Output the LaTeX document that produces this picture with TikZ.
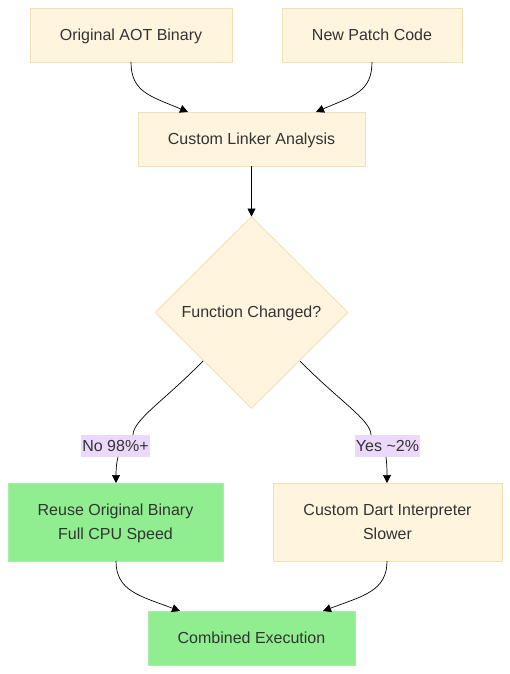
\documentclass[tikz,border=0pt]{standalone}
\usepackage{fontspec}
\setmainfont{Liberation Sans}
\usetikzlibrary{arrows.meta,shapes.geometric}
\definecolor{cream}{RGB}{255,244,221}
\definecolor{creamline}{RGB}{240,224,178}
\definecolor{lgreen}{RGB}{144,238,144}
\definecolor{lgreenline}{RGB}{170,236,170}
\definecolor{lblbg}{RGB}{236,216,250}
\definecolor{txt}{RGB}{51,51,51}
\begin{document}
\begin{tikzpicture}[x=1pt,y=-1pt,
  every node/.style={font=\fontsize{16}{24}\selectfont, text=txt},
  box/.style={draw=creamline, fill=cream, line width=0.8pt, inner sep=0pt, align=center, text depth=1pt},
  gbox/.style={draw=lgreenline, fill=lgreen, line width=0.8pt, inner sep=0pt, align=center, text depth=1pt},
  dia/.style={diamond, draw=creamline, fill=cream, line width=0.8pt, inner sep=0pt, minimum width=193pt, minimum height=192pt, aspect=1},
  elbl/.style={fill=lblbg, inner sep=1pt, minimum height=22pt, minimum width=65pt, text depth=1pt},
  conn/.style={draw=black, line width=0.7pt},
  arr/.style={conn, -{Triangle[length=8pt,width=8pt]}}
]
\useasboundingbox (0,0) rectangle (510,674);

\node[box, minimum width=202pt, minimum height=54pt] (aot) at (131,35) {Original AOT Binary};
\node[box, minimum width=180pt, minimum height=54pt] (patch) at (372,35) {New Patch Code};
\node[box, minimum width=227pt, minimum height=54pt] (link) at (251.5,139) {Custom Linker Analysis};
\node[dia] (dec) at (251.5,312.5) {};
\node (dectxt) at (251.5,313.5) {Function Changed?};
\node[gbox, minimum width=215pt, minimum height=78pt] (reuse) at (115.5,522) {Reuse Original Binary\\Full CPU Speed};
\node[box, minimum width=229pt, minimum height=78pt] (interp) at (387.5,522) {Custom Dart Interpreter\\Slower};
\node[gbox, minimum width=207pt, minimum height=54pt] (comb) at (251.5,638) {Combined Execution};

\node[elbl, minimum width=65pt] (lno) at (115.5,446) {No 98\%+};
\node[elbl, minimum width=63pt] (lyes) at (387.5,446) {Yes \textasciitilde2\%};

\coordinate (aotS) at (131,62);
\coordinate (patchS) at (372,62);
\coordinate (linkA) at (188,112);
\coordinate (linkB) at (316,112);
\coordinate (decL) at (203,361);
\coordinate (decR) at (300,361);
\coordinate (lnoT) at (133,435);
\coordinate (lyesT) at (371,435);
\coordinate (lnoB) at (118,457);
\coordinate (lyesB) at (386,457);
\coordinate (reuseT) at (116,483);
\coordinate (interpT) at (387,483);
\coordinate (reuseB) at (116,561);
\coordinate (interpB) at (387,561);
\coordinate (combA) at (180,611);
\coordinate (combB) at (323,611);
\coordinate (linkS) at (251.5,166);
\coordinate (decT) at (251.5,216.5);

\draw[arr] (aotS) .. controls (131,92) and (150,96) .. (linkA);
\draw[arr] (patchS) .. controls (372,92) and (353,96) .. (linkB);
\draw[arr] (linkS) -- (decT);
\draw[conn] (decL) .. controls (165,400) and (133,420) .. (lnoT);
\draw[conn] (decR) .. controls (338,400) and (371,420) .. (lyesT);
\draw[arr] (lnoB) .. controls (116,465) and (116,472) .. (reuseT);
\draw[arr] (lyesB) .. controls (387,465) and (387,472) .. (interpT);
\draw[arr] (reuseB) .. controls (116,591) and (140,596) .. (combA);
\draw[arr] (interpB) .. controls (387,591) and (363,596) .. (combB);
\end{tikzpicture}
\end{document}
